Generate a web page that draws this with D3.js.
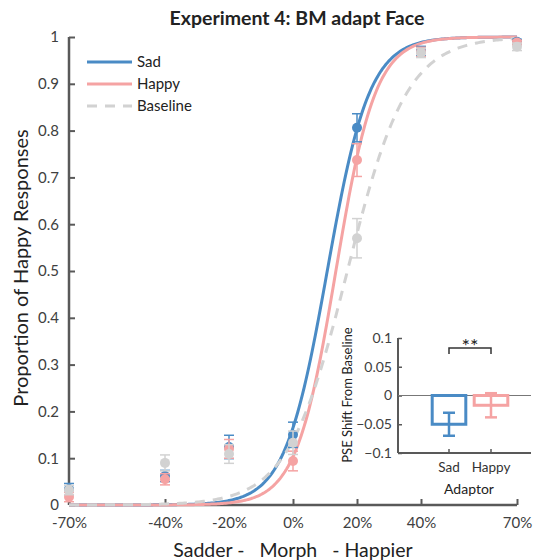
<!DOCTYPE html>
<html><head><meta charset="utf-8">
<script src="https://cdn.jsdelivr.net/npm/d3@7"></script>
<style>body{margin:0;background:#fff}svg{display:block;font-family:Lato,"Open Sans",sans-serif}</style>
</head><body><svg id="c" width="537" height="560"></svg>
<script>
const morphLevels = [-70, -40, -20, 0, 20, 40, 70];
const xTickLabels = ["-70%", "-40%", "-20%", "0%", "20%", "40%", "70%"];
const yTicks = [0, 0.1, 0.2, 0.3, 0.4, 0.5, 0.6, 0.7, 0.8, 0.9, 1];
const seriesNames = ["Sad", "Happy", "Baseline"];
const sadValues = [0.034, 0.062, 0.124, 0.150, 0.806, 0.970, 0.990];
const sadErrors = [0.012, 0.012, 0.025, 0.027, 0.030, 0.010, 0.005];
const happyValues = [0.017, 0.055, 0.120, 0.094, 0.737, 0.968, 0.988];
const happyErrors = [0.010, 0.012, 0.020, 0.021, 0.035, 0.010, 0.005];
const baselineValues = [0.032, 0.090, 0.109, 0.133, 0.570, 0.966, 0.979];
const baselineErrors = [0.010, 0.017, 0.020, 0.025, 0.042, 0.010, 0.008];
// fitted psychometric (logistic) parameters: PSE (mu) and spread (s)
const fitMu = [10.7, 13.4, 17.0];
const fitSpread = [6.6, 6.2, 9.3];
const adaptors = ["Sad", "Happy"];
const pseShift = [-0.050, -0.017];
const pseError = [0.020, 0.021];
const insetTicks = [-0.1, -0.05, 0, 0.05, 0.1];

const colors = ["#4a8bc5", "#f5a3a3", "#d2d2d2"];
const values = [sadValues, happyValues, baselineValues];
const errors = [sadErrors, happyErrors, baselineErrors];
const axisColor = "#595959", textColor = "#404040";

const svg = d3.select("#c");
const x = d3.scaleLinear().domain([-70, 70]).range([69, 517]);
const y = d3.scaleLinear().domain([0, 1]).range([505, 37]);

// title
svg.append("text").attr("x", 297).attr("y", 25).attr("text-anchor", "middle")
  .attr("font-size", 19.5).attr("font-weight", "bold").attr("fill", "#222")
  .text("Experiment 4: BM adapt Face");

// axes
const yAx = svg.append("g").attr("transform", "translate(69,0)")
  .call(d3.axisLeft(y).tickValues(yTicks).tickSizeInner(-6).tickSizeOuter(0).tickPadding(10)
    .tickFormat(d => d3.format("~g")(d)));
const xAx = svg.append("g").attr("transform", "translate(0,505)")
  .call(d3.axisBottom(x).tickValues(morphLevels).tickSizeInner(-6).tickSizeOuter(0).tickPadding(12)
    .tickFormat((d, i) => xTickLabels[i]));
[yAx, xAx].forEach(g => {
  g.select(".domain").attr("stroke", axisColor).attr("stroke-width", 2.5);
  g.selectAll(".tick line").attr("stroke", axisColor).attr("stroke-width", 2);
  g.selectAll(".tick text").attr("fill", textColor).attr("font-size", 15).attr("font-family", "Lato, sans-serif");
});
xAx.select(".domain").attr("d", `M${x(-70)},0H${x(70)}`);
yAx.select(".domain").attr("d", `M0,${y(1)}V${y(0)}`);

svg.append("text").attr("transform", "translate(28,268) rotate(-90)").attr("text-anchor", "middle")
  .attr("font-size", 20).attr("fill", "#222").text("Proportion of Happy Responses");
svg.append("text").attr("x", 293).attr("y", 557).attr("text-anchor", "middle")
  .attr("font-size", 19.5).attr("fill", "#222").attr("xml:space", "preserve")
  .text("Sadder -   Morph   - Happier");

// fitted curves
const xs = d3.range(-70, 70.01, 0.5);
const line = d3.line().x(d => x(d[0])).y(d => y(d[1]));
seriesNames.forEach((n, k) => {
  const pts = xs.map(v => [v, 1 / (1 + Math.exp(-(v - fitMu[k]) / fitSpread[k]))]);
  svg.append("path").attr("d", line(pts)).attr("fill", "none").attr("stroke", colors[k])
    .attr("stroke-width", 3).attr("stroke-dasharray", k === 2 ? "10,8" : null);
});

// data points with error bars
seriesNames.forEach((n, k) => {
  const g = svg.append("g").attr("stroke", colors[k]).attr("fill", colors[k]);
  morphLevels.forEach((lv, i) => {
    const cx = x(lv), v = values[k][i], e = errors[k][i];
    g.append("line").attr("x1", cx).attr("x2", cx).attr("y1", y(v - e)).attr("y2", y(v + e)).attr("stroke-width", 1.5);
    [v - e, v + e].forEach(t => g.append("line").attr("x1", cx - 5).attr("x2", cx + 5).attr("y1", y(t)).attr("y2", y(t)).attr("stroke-width", 1.5));
    g.append("circle").attr("cx", cx).attr("cy", y(v)).attr("r", 5).attr("stroke", "none");
  });
});

// legend
seriesNames.forEach((n, k) => {
  const ly = 62 + k * 22;
  svg.append("line").attr("x1", 87).attr("x2", 132).attr("y1", ly).attr("y2", ly)
    .attr("stroke", colors[k]).attr("stroke-width", 3).attr("stroke-dasharray", k === 2 ? "10,8" : null);
  svg.append("text").attr("x", 137).attr("y", ly + 5).attr("font-size", 15).attr("fill", "#222").text(n);
});

// inset
const ix = d3.scaleBand().domain(adaptors).range([428, 512]).paddingInner(0.2).paddingOuter(0.1);
const iy = d3.scaleLinear().domain([-0.1, 0.1]).range([453, 338]);
const iyAx = svg.append("g").attr("transform", "translate(398,0)")
  .call(d3.axisLeft(iy).tickValues(insetTicks).tickSizeInner(-4).tickSizeOuter(0).tickPadding(6)
    .tickFormat(d => d3.format("~g")(d)));
iyAx.select(".domain").attr("d", `M0,${iy(0.1)}V${iy(-0.1)}`).attr("stroke", axisColor).attr("stroke-width", 2);
iyAx.selectAll(".tick line").attr("stroke", axisColor).attr("stroke-width", 1.5);
iyAx.selectAll(".tick text").attr("fill", textColor).attr("font-size", 14).attr("font-family", "Lato, sans-serif");
svg.append("line").attr("x1", 398).attr("x2", 531).attr("y1", iy(-0.1)).attr("y2", iy(-0.1)).attr("stroke", axisColor).attr("stroke-width", 2);
adaptors.forEach(a => svg.append("line").attr("x1", ix(a) + ix.bandwidth() / 2).attr("x2", ix(a) + ix.bandwidth() / 2)
  .attr("y1", iy(-0.1)).attr("y2", iy(-0.1) - 4).attr("stroke", axisColor).attr("stroke-width", 1.5));
svg.append("line").attr("x1", 398).attr("x2", 531).attr("y1", iy(0)).attr("y2", iy(0)).attr("stroke", "#777").attr("stroke-width", 1);
adaptors.forEach((a, i) => {
  const bx = ix(a), bw = ix.bandwidth(), cx = bx + bw / 2;
  svg.append("rect").attr("x", bx).attr("y", iy(0)).attr("width", bw).attr("height", iy(pseShift[i]) - iy(0))
    .attr("fill", "none").attr("stroke", colors[i]).attr("stroke-width", 3);
  const lo = pseShift[i] - pseError[i], hi = pseShift[i] + pseError[i];
  svg.append("line").attr("x1", cx).attr("x2", cx).attr("y1", iy(lo)).attr("y2", iy(hi)).attr("stroke", colors[i]).attr("stroke-width", 2.5);
  [lo, hi].forEach(t => svg.append("line").attr("x1", cx - 6).attr("x2", cx + 6).attr("y1", iy(t)).attr("y2", iy(t)).attr("stroke", colors[i]).attr("stroke-width", 2.5));
  svg.append("text").attr("x", cx).attr("y", 472).attr("text-anchor", "middle").attr("font-size", 13.5).attr("fill", "#333").text(a);
});
svg.append("text").attr("x", 469).attr("y", 494).attr("text-anchor", "middle").attr("font-size", 14).attr("fill", "#222").text("Adaptor");
svg.append("text").attr("transform", "translate(352,395) rotate(-90)").attr("text-anchor", "middle")
  .attr("font-size", 13).attr("fill", "#222").text("PSE Shift From Baseline");
// significance bracket
const c0 = ix("Sad") + ix.bandwidth() / 2, c1 = ix("Happy") + ix.bandwidth() / 2;
svg.append("path").attr("d", `M${c0},354V348H${c1}V354`).attr("fill", "none").attr("stroke", "#333").attr("stroke-width", 1.5);
svg.append("text").attr("x", (c0 + c1) / 2).attr("y", 353).attr("text-anchor", "middle").attr("font-size", 20).attr("fill", "#222").text("**");
</script></body></html>
